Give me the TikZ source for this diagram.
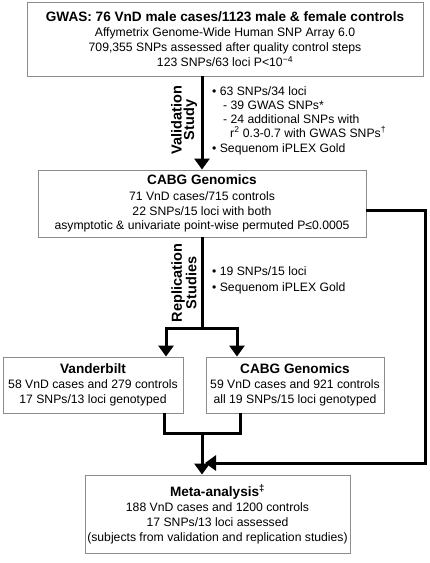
\documentclass[tikz,border=0pt]{standalone}
\usepackage{fontspec}
\setmainfont{Liberation Sans}
\usetikzlibrary{calc,positioning,arrows.meta}
\definecolor{boxgray}{rgb}{0.55,0.55,0.55}
\newcommand{\boxtitle}[1]{{\bfseries\fontsize{13.6}{16}\selectfont #1}}
\tikzset{
  stepbox/.style={draw=boxgray, line width=0.9pt, align=center, inner sep=2pt,
    font=\fontsize{12.2}{14.8}\selectfont},
  flow/.style={line width=3pt, -{Triangle[width=15pt,length=11pt]}},
  link/.style={line width=3pt},
  sidelabel/.style={rotate=90, align=center, inner sep=0pt,
    font=\bfseries\fontsize{14.5}{12.5}\selectfont},
  notes/.style={align=left, anchor=north west, inner sep=0pt,
    font=\fontsize{12.2}{14}\selectfont},
}
\begin{document}
\begin{tikzpicture}[x=1pt,y=-1pt]
	\useasboundingbox (0,0) rectangle (430,563);

	% boxes
	\node[stepbox, minimum width=396pt, minimum height=74pt] (gwas) at (225,39)
		{\boxtitle{GWAS: 76 VnD male cases/1123 male \& female controls}\\[1pt]
		 Affymetrix Genome-Wide Human SNP Array 6.0\\
		 709,355 SNPs assessed after quality control steps\\
		 123 SNPs/63 loci P<10\textsuperscript{−4}};
	\node[stepbox, minimum width=328pt, minimum height=67pt] (cabg) at (202,203.5)
		{\boxtitle{CABG Genomics}\\[1pt]
		 71 VnD cases/715 controls\\
		 22 SNPs/15 loci with both\\
		 asymptotic \& univariate point-wise permuted P≤0.0005};
	\node[stepbox, minimum width=180pt, minimum height=56pt] (vand) at (93,385)
		{\boxtitle{Vanderbilt}\\
		 58 VnD cases and 279 controls\\
		 17 SNPs/13 loci genotyped};
	\node[stepbox, minimum width=178pt, minimum height=56pt] (cabgrep) at (295,385)
		{\boxtitle{CABG Genomics}\\
		 59 VnD cases and 921 controls\\
		 all 19 SNPs/15 loci genotyped};
	\node[stepbox, minimum width=265pt, minimum height=78pt] (meta) at (217.5,514)
		{\boxtitle{Meta-analysis\textsuperscript{‡}}\\
		 188 VnD cases and 1200 controls\\
		 17 SNPs/13 loci assessed\\
		 (subjects from validation and replication studies)};

	% validation step
	\draw[flow] (cabg.north |- gwas.south) -- (cabg.north);
	\node[sidelabel] (valid) at (184,120) {Validation\\Study};
	\node[notes] (validnotes) at (212,86)
		{• 63 SNPs/34 loci\\
		 \hspace*{11pt}- 39 GWAS SNPs*\\
		 \hspace*{11pt}- 24 additional SNPs with\\
		 \hspace*{18pt}r\textsuperscript{2} 0.3-0.7 with GWAS SNPs\textsuperscript{†}\\[1pt]
		 • Sequenom iPLEX Gold};

	% replication step
	\coordinate (split) at (cabg.south |- 0,328);
	\draw[link] (cabg.south) -- (split);
	\draw[flow] (split) -| (vand.north -| 166,0);
	\draw[flow] (split) -| (cabgrep.north -| 237,0);
	\node[sidelabel] (repl) at (184,283) {Replication\\Studies};
	\node[notes] (replnotes) at (212,266)
		{• 19 SNPs/15 loci\\[2pt]
		 • Sequenom iPLEX Gold};

	% merge into meta-analysis
	\coordinate (join) at (cabg.south |- 0,433);
	\draw[link] (vand.south -| 164,0) |- (join);
	\draw[link] (cabgrep.south -| 240,0) |- (join);
	\draw[flow] (join) -- (meta.north -| join);

	% CABG Genomics straight to meta-analysis
	\coordinate (bypass) at (425,463);
	\draw[flow] ($(cabg.east)+(0,7)$) -| (bypass) -- ($(bypass -| join)+(3,0)$);
\end{tikzpicture}
\end{document}
